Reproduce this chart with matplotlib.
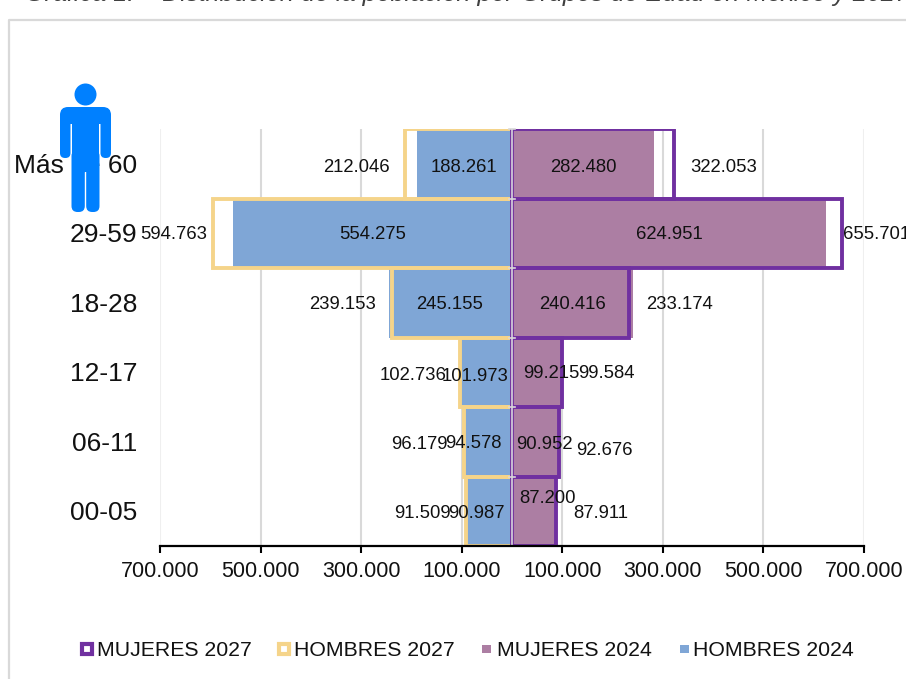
"""Piramide de poblacion 2024 / 2027 por grupos de edad."""

import matplotlib
matplotlib.use("Agg")
import matplotlib.pyplot as plt
from matplotlib.patches import Circle, FancyBboxPatch, Rectangle

plt.rcParams["font.family"] = ["Liberation Sans", "DejaVu Sans"]

GRUPOS = ["00-05", "06-11", "12-17", "18-28", "29-59", "Más de 60"]
HOMBRES_2024 = [90987, 94578, 101973, 245155, 554275, 188261]
MUJERES_2024 = [87200, 90952, 99215, 240416, 624951, 282480]
HOMBRES_2027 = [91509, 96179, 102736, 239153, 594763, 212046]
MUJERES_2027 = [87911, 92676, 99584, 233174, 655701, 322053]
TICKS = [-700000, -500000, -300000, -100000, 100000, 300000, 500000, 700000]

AZUL = "#7FA6D6"
MORADO_CLARO = "#AC7EA3"
MORADO = "#7030A0"
AMARILLO = "#F5D48A"
GRIS = "#D9D9D9"
AZUL_ICONO = "#0080FF"

W, H = 906, 679

# centro de cada etiqueta en pixeles, estan movidas a mano en el original
POS_H24 = [(476, 512), (473, 442), (475, 375), (450, 303), (373, 233), (464, 166)]
POS_M24 = [(548, 497), (544, 443), (551, 372), (573, 303), (669, 233), (583, 166)]
POS_H27 = [(422.5, 512), (419.5, 443), (413, 374), (342.5, 303), (174, 233), (356, 166)]
POS_M27 = [(600.5, 512), (604, 449), (606, 372), (679.5, 303), (877, 233), (724, 166)]


def miles(v):
    return f"{v:,}".replace(",", ".")


fig = plt.figure(figsize=(W / 100, H / 100), dpi=100)
ax = fig.add_axes([160 / W, 1 - 546 / H, 704 / W, 417 / H])

y = list(range(len(GRUPOS)))
ax.barh(y, [-v for v in HOMBRES_2024], height=1, color=AZUL, zorder=2)
ax.barh(y, MUJERES_2024, height=1, color=MORADO_CLARO, zorder=2)
ax.barh(y, [-v for v in HOMBRES_2027], height=1, facecolor="none",
        edgecolor=AMARILLO, linewidth=2.8, zorder=3)
ax.barh(y, MUJERES_2027, height=1, facecolor="none",
        edgecolor=MORADO, linewidth=2.8, zorder=4)

ax.set_xlim(-700000, 700000)
ax.set_ylim(-0.5, 5.5)
ax.set_xticks(TICKS)
ax.set_xticklabels([miles(abs(t)) for t in TICKS], fontsize=15.5, color="#111111")
ax.tick_params(axis="x", length=5, width=1.5, color="black", pad=6)
ax.set_yticks([])
for t in TICKS:
    faint = abs(t) == 700000
    ax.axvline(t, color="#EFEFEF" if faint else GRIS, linewidth=1.5, zorder=1)
ax.axvline(0, color="#D0C8D8", linewidth=1.3, zorder=5)
for b in range(7):
    ax.plot([-6000, 6000], [b - 0.5, b - 0.5], color=GRIS, linewidth=1.2,
            zorder=6, clip_on=False)
for lado in ["top", "left", "right"]:
    ax.spines[lado].set_visible(False)
ax.spines["bottom"].set_linewidth(1.6)
ax.spines["bottom"].set_zorder(7)

# capa en pixeles para marco, etiquetas, leyenda e icono
capa = fig.add_axes([0, 0, 1, 1], zorder=10)
capa.set_xlim(0, W)
capa.set_ylim(H, 0)
capa.axis("off")
capa.patch.set_alpha(0)

capa.plot([9, 9, W], [H, 20, 20], color=GRIS, linewidth=1.6, clip_on=False)
# el titulo viene cortado por arriba, solo se ve la parte baja de las letras
capa.text(25, 1, "Gráfica 1.    Distribución de la población por Grupos de Edad en México y 2027",
          fontsize=18.2, style="italic", color="#404040", va="baseline", ha="left")

for valores, posiciones in [(HOMBRES_2024, POS_H24), (MUJERES_2024, POS_M24),
                            (HOMBRES_2027, POS_H27), (MUJERES_2027, POS_M27)]:
    for v, (px, py) in zip(valores, posiciones):
        capa.text(px, py + 1.5, miles(v), fontsize=13.3, color="#111111",
                  ha="center", va="center")

for i, g in enumerate(GRUPOS):
    capa.text(137, 548 - 69.5 * (i + 0.5), g, fontsize=19, color="#111111",
              ha="right", va="center")

# leyenda
LEYENDA = [("MUJERES 2027", 80, 97, MORADO, True),
           ("HOMBRES 2027", 277, 294, AMARILLO, True),
           ("MUJERES 2024", 482, 497, MORADO_CLARO, False),
           ("HOMBRES 2024", 680, 693, AZUL, False)]
for nombre, xm, xt, color, hueco in LEYENDA:
    if hueco:
        capa.add_patch(Rectangle((xm + 2, 644), 10, 10, facecolor="white",
                                 edgecolor=color, linewidth=3))
    else:
        capa.add_patch(Rectangle((xm, 644.5), 8.5, 8.5, facecolor=color, edgecolor="none"))
    capa.text(xt, 650.5, nombre, fontsize=15.3, color="#111111", ha="left", va="center")


def caja(x0, y0, x1, y1, r):
    capa.add_patch(FancyBboxPatch((x0 + r, y0 + r), x1 - x0 - 2 * r, y1 - y0 - 2 * r,
                                  boxstyle=f"round,pad={r},rounding_size={r}",
                                  facecolor=AZUL_ICONO, edgecolor="none", zorder=20))


# icono de persona
capa.add_patch(Circle((85.5, 94.5), 11, facecolor=AZUL_ICONO, edgecolor="none", zorder=20))
caja(60, 107, 111, 124, 8)
caja(60, 112, 70.5, 158, 5)
caja(100.5, 112, 111, 158, 5)
capa.add_patch(Rectangle((72, 112), 27, 60, facecolor=AZUL_ICONO, edgecolor="none", zorder=20))
caja(71.5, 150, 84.8, 212, 6)
caja(86.2, 150, 99.5, 212, 6)

fig.savefig("out.png", dpi=100)
